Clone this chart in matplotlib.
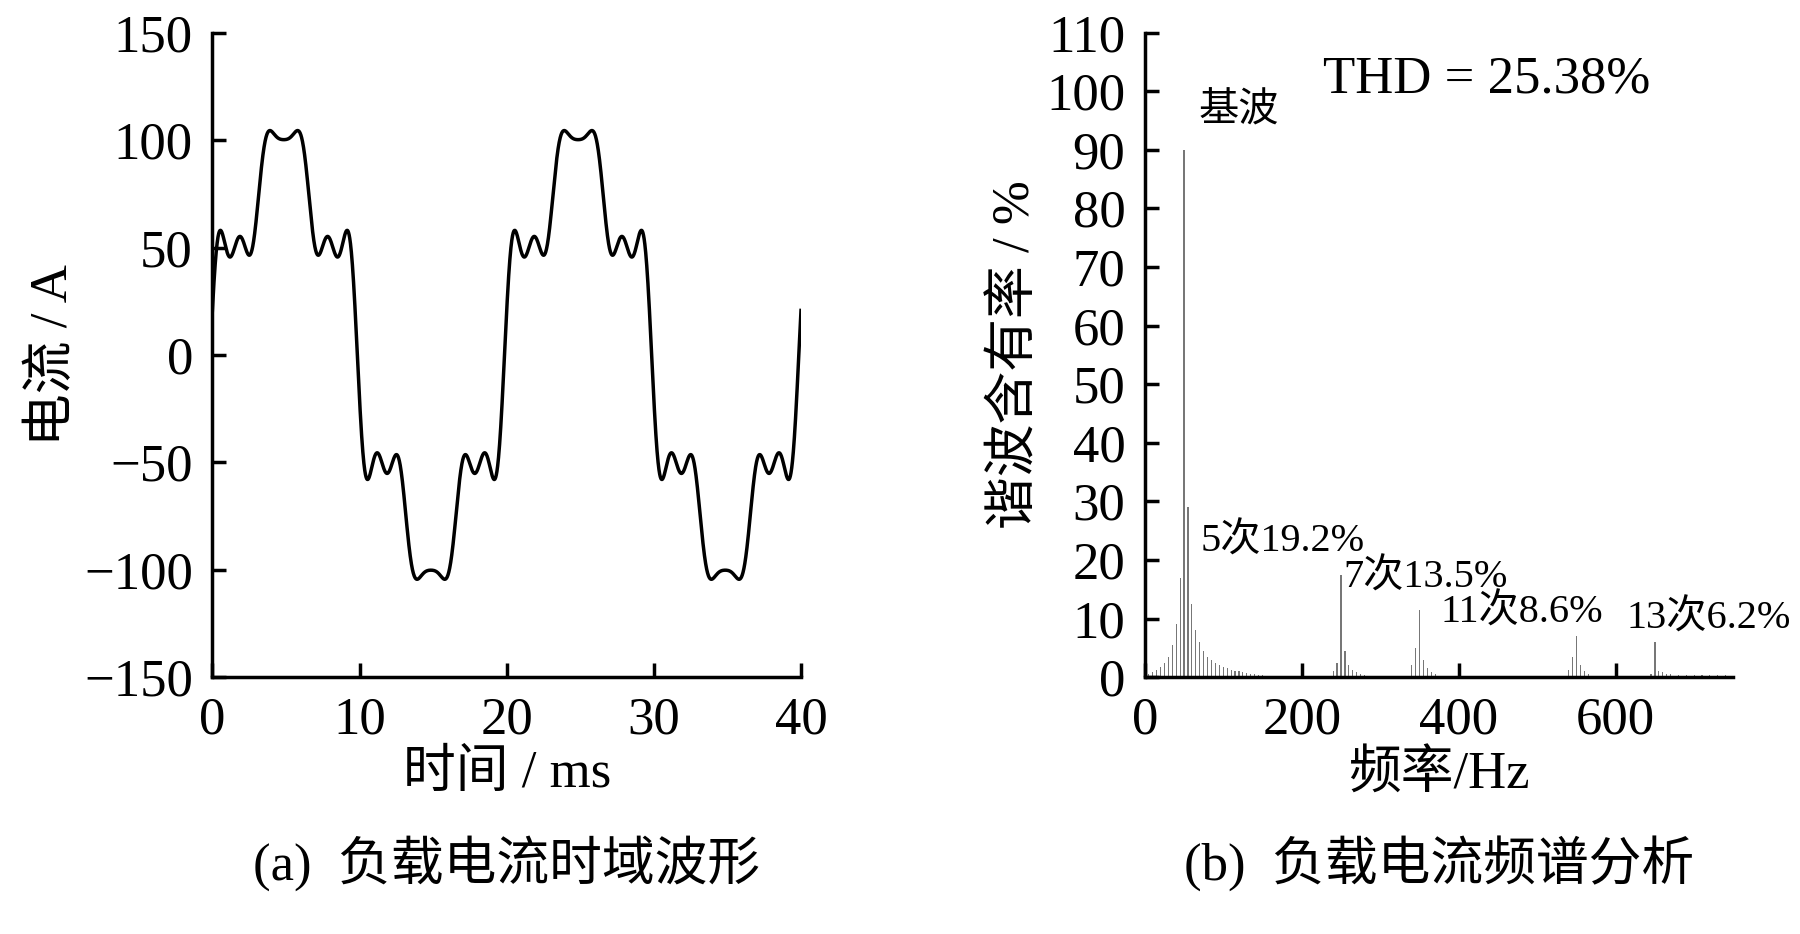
import numpy as np
import matplotlib as mpl
mpl.use('Agg')
import matplotlib.pyplot as plt

plt.rcParams['font.family'] = ['Liberation Serif', 'Noto Sans CJK SC']
plt.rcParams['axes.unicode_minus'] = True

# harmonic content of the load current (amplitudes in A, order n)
orders = [1, 5, 7, 11, 13]
amps = [97.0, 18.6, 13.1, 8.3, 6.0]
t_shift = 0.15  # ms, waveform leads slightly

# spectrum bars (Hz, %)
freqs = [5, 10, 15, 20, 25, 30, 35, 40, 45, 50, 55, 60, 65, 70, 75, 80, 85, 90, 95, 100,
         105, 110, 115, 120, 125, 130, 135, 140, 145, 150,
         200, 240, 245, 250, 255, 260, 265, 270, 275, 280,
         340, 345, 350, 355, 360, 365, 370, 400,
         540, 545, 550, 555, 560, 565, 600,
         645, 650, 655, 660, 665, 670, 680, 690, 700, 710, 720, 730, 740]
ratio = [0.5, 0.8, 1.2, 1.8, 2.5, 3.5, 5.5, 9, 17, 90, 29, 12.5, 8, 6, 4.5, 3.5, 3, 2.5, 2, 1.8,
         1.5, 1.3, 1.1, 1.0, 0.8, 0.7, 0.6, 0.5, 0.4, 0.3,
         0.8, 1.0, 2.5, 17.5, 4.5, 2.0, 1.2, 0.8, 0.5, 0.3,
         2.0, 5.0, 11.5, 3.0, 1.5, 0.8, 0.5, 1.5,
         1.2, 3.5, 7.0, 2.0, 1.0, 0.5, 1.0,
         0.5, 6.0, 1.0, 0.8, 0.6, 0.5, 0.4, 0.4, 0.3, 0.3, 0.3, 0.3, 0.3]

labels = [(120, '基波', 96.5), (175, '5次19.2%', 23), (358, '7次13.5%', 17),
          (480, '11次8.6%', 11), (718, '13次6.2%', 10)]

fs = 38
fig = plt.figure(figsize=(18, 9.34), dpi=100)
ax1 = fig.add_axes([0.118, 0.275, 0.327, 0.69])
ax2 = fig.add_axes([0.636, 0.275, 0.327, 0.69])

t = np.linspace(0, 40, 4000)
w = 2 * np.pi / 20.0
i = np.zeros_like(t)
for n, a in zip(orders, amps):
    i += a * np.sin(n * w * (t + t_shift))
ax1.plot(t, i, color='black', lw=2.5)
ax1.set_xlim(0, 40)
ax1.set_ylim(-150, 150)
ax1.set_xticks([0, 10, 20, 30, 40])
ax1.set_yticks([-150, -100, -50, 0, 50, 100, 150])
ax1.set_xlabel('时间 / ms', fontsize=fs, labelpad=4)
ax1.set_ylabel('电流 / A', fontsize=fs)
ax1.text(0.5, -0.245, '(a)  负载电流时域波形', transform=ax1.transAxes, ha='center', va='top', fontsize=fs)

ax2.bar(freqs, ratio, width=1.5, color='#777777')
ax2.set_xlim(0, 750)
ax2.set_ylim(0, 110)
ax2.set_xticks([0, 200, 400, 600])
ax2.set_yticks(range(0, 111, 10))
ax2.set_xlabel('频率/Hz', fontsize=fs, labelpad=4)
ax2.set_ylabel('谐波含有率 / %', fontsize=fs)
for f, s, y in labels:
    ax2.text(f, y, s, ha='center', va='center', fontsize=29)
ax2.text(435, 102, 'THD = 25.38%', ha='center', va='center', fontsize=fs)
ax2.text(0.5, -0.245, '(b)  负载电流频谱分析', transform=ax2.transAxes, ha='center', va='top', fontsize=fs)

for ax in (ax1, ax2):
    ax.spines['top'].set_visible(False)
    ax.spines['right'].set_visible(False)
    for s in ax.spines.values():
        s.set_linewidth(2.5)
    ax.tick_params(direction='in', length=10, width=2.5, labelsize=fs, pad=14)

fig.savefig('out.png')
